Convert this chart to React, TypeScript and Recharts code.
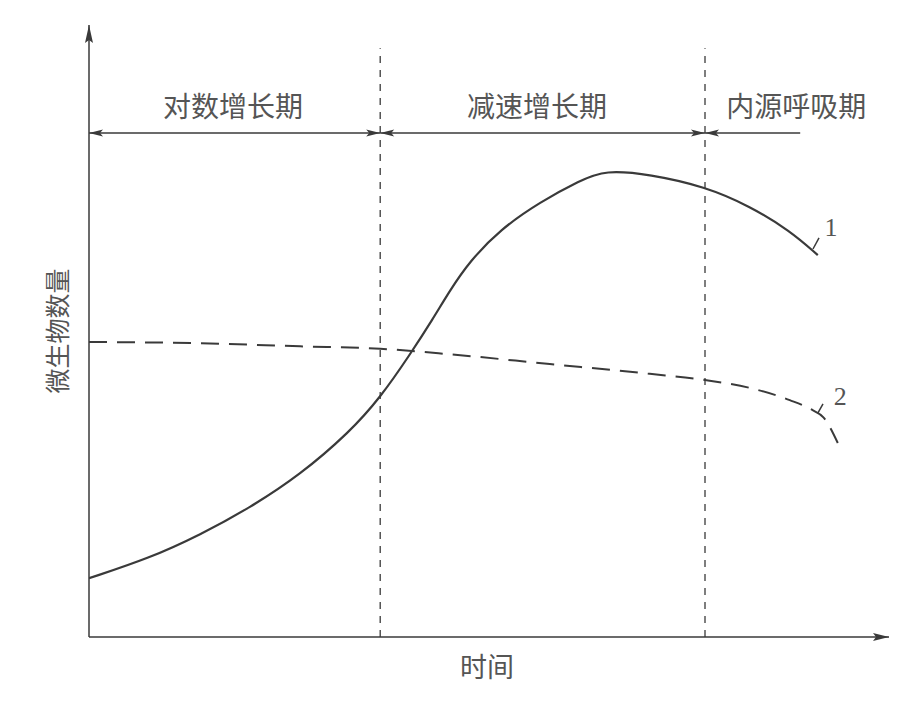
import { LineChart, Line, XAxis, YAxis, ReferenceLine, ReferenceDot } from 'recharts';

// time axis 0..100, count axis 0..100 (relative units)
const timeSolid = [0, 7.6, 13.9, 20.1, 26.4, 32.6, 36.4, 40.1, 43.0, 45.1, 47.6, 51.4, 56.4, 61.4, 64.5, 70.1, 77, 82.6, 87.6, 91.1];
const countSolid = [9.6, 12.9, 16.7, 21.1, 26.5, 33.5, 39.1, 46.1, 52.0, 56.6, 61.4, 66.6, 71.1, 74.6, 76.3, 75.6, 73.6, 70.4, 66.4, 62.4];

const timeDashed = [0, 13.9, 26.4, 36.4, 45.1, 57.6, 70.1, 77, 82.6, 87.6, 90.4, 91.8, 93.6];
const countDashed = [48.2, 48.0, 47.5, 47.1, 46.2, 44.6, 43.0, 42.0, 40.7, 38.7, 37.1, 35.9, 31.7];

const phaseBounds = [0, 36.4, 77, 88.9];
const phaseNames = ['对数增长期', '减速增长期', '内源呼吸期'];
const phaseLabelX = [18.0, 56.0, 88.4];

const xLabel = '时间';
const yLabel = '微生物数量';
const curveNames = ['1', '2'];

const solidData = timeSolid.map((t, i) => ({ t, v: countSolid[i] }));
const dashedData = timeDashed.map((t, i) => ({ t, v: countDashed[i] }));

const INK = '#3a3a3a';
const TEXT = '#555';
const CJK = '"Noto Sans CJK SC", "Noto Sans", sans-serif';
const SERIF = '"Liberation Serif", serif';

function arrowHead(x: number, y: number, dx: number, dy: number, len: number, half: number) {
  const l = Math.hypot(dx, dy) || 1;
  const ux = dx / l;
  const uy = dy / l;
  const bx = x - ux * len;
  const by = y - uy * len;
  const pts = [
    [x, y],
    [bx - uy * half, by + ux * half],
    [bx + ux * 3, by + uy * 3],
    [bx + uy * half, by - ux * half],
  ];
  return <polygon points={pts.map((p) => p.join(',')).join(' ')} fill={INK} stroke="none" />;
}

function arrowShape(start: boolean, end: boolean, len = 14, half = 3.5) {
  return (props: any) => {
    const { x1, y1, x2, y2 } = props;
    return (
      <g>
        <line x1={x1} y1={y1} x2={x2} y2={y2} stroke={INK} strokeWidth={1.5} />
        {start && arrowHead(x1, y1, x1 - x2, y1 - y2, len, half)}
        {end && arrowHead(x2, y2, x2 - x1, y2 - y1, len, half)}
      </g>
    );
  };
}

const textLabel = (value: string, size: number, family: string, angle = 0) => ({
  value,
  position: 'center' as const,
  fontSize: size,
  fill: TEXT,
  fontFamily: family,
  angle,
});

export default function App() {
  const arrowY = 82.35;
  return (
    <div style={{ width: 900, height: 711, background: '#fff' }}>
      <style>{'body{margin:0}'}</style>
      <LineChart
        width={900}
        height={711}
        margin={{ top: 25, right: 11, left: 89, bottom: 74 }}
      >
        <XAxis type="number" dataKey="t" domain={[0, 100]} allowDataOverflow hide />
        <YAxis type="number" dataKey="v" domain={[0, 100]} allowDataOverflow hide />

        {/* axes */}
        <ReferenceLine
          segment={[{ x: 0, y: 0 }, { x: 100, y: 0 }]}
          ifOverflow="visible"
          shape={arrowShape(false, true, 16, 4)}
        />
        <ReferenceLine
          segment={[{ x: 0, y: 0 }, { x: 0, y: 100 }]}
          ifOverflow="visible"
          shape={arrowShape(false, true, 18, 4)}
        />

        {/* phase boundaries */}
        {[phaseBounds[1], phaseBounds[2]].map((b) => (
          <ReferenceLine
            key={b}
            segment={[{ x: b, y: 0 }, { x: b, y: 96.2 }]}
            stroke={INK}
            strokeWidth={1.3}
            strokeDasharray="7 7"
            ifOverflow="visible"
          />
        ))}

        {/* phase span arrows */}
        <ReferenceLine
          segment={[{ x: phaseBounds[0], y: arrowY }, { x: phaseBounds[1], y: arrowY }]}
          ifOverflow="visible"
          shape={arrowShape(true, true)}
        />
        <ReferenceLine
          segment={[{ x: phaseBounds[1], y: arrowY }, { x: phaseBounds[2], y: arrowY }]}
          ifOverflow="visible"
          shape={arrowShape(true, true)}
        />
        <ReferenceLine
          segment={[{ x: phaseBounds[2], y: arrowY }, { x: phaseBounds[3], y: arrowY }]}
          ifOverflow="visible"
          shape={arrowShape(true, false)}
        />

        {phaseNames.map((name, i) => (
          <ReferenceDot
            key={name}
            x={phaseLabelX[i]}
            y={86.6}
            r={0}
            stroke="none"
            fill="none"
            ifOverflow="visible"
            label={textLabel(name, 28, CJK)}
          />
        ))}

        {/* curve leaders and numbers */}
        <ReferenceLine
          segment={[{ x: 90.5, y: 63.4 }, { x: 91.25, y: 65.2 }]}
          stroke={INK}
          strokeWidth={1.5}
          ifOverflow="visible"
        />
        <ReferenceLine
          segment={[{ x: 91.1, y: 36.6 }, { x: 91.75, y: 38.1 }]}
          stroke={INK}
          strokeWidth={1.5}
          ifOverflow="visible"
        />
        <ReferenceDot x={92.75} y={67.0} r={0} stroke="none" fill="none" ifOverflow="visible"
          label={textLabel(curveNames[0], 26, SERIF)} />
        <ReferenceDot x={93.9} y={39.4} r={0} stroke="none" fill="none" ifOverflow="visible"
          label={textLabel(curveNames[1], 26, SERIF)} />

        {/* axis titles */}
        <ReferenceDot x={49.75} y={-5.0} r={0} stroke="none" fill="none" ifOverflow="visible"
          label={textLabel(xLabel, 27, CJK)} />
        <ReferenceDot x={-3.9} y={50} r={0} stroke="none" fill="none" ifOverflow="visible"
          label={textLabel(yLabel, 25, CJK, -90)} />

        <Line
          data={solidData}
          dataKey="v"
          type="basis"
          stroke={INK}
          strokeWidth={2.2}
          dot={false}
          activeDot={false}
          isAnimationActive={false}
        />
        <Line
          data={dashedData}
          dataKey="v"
          type="monotone"
          stroke={INK}
          strokeWidth={2}
          strokeDasharray="18 10"
          dot={false}
          activeDot={false}
          isAnimationActive={false}
        />
      </LineChart>
    </div>
  );
}
